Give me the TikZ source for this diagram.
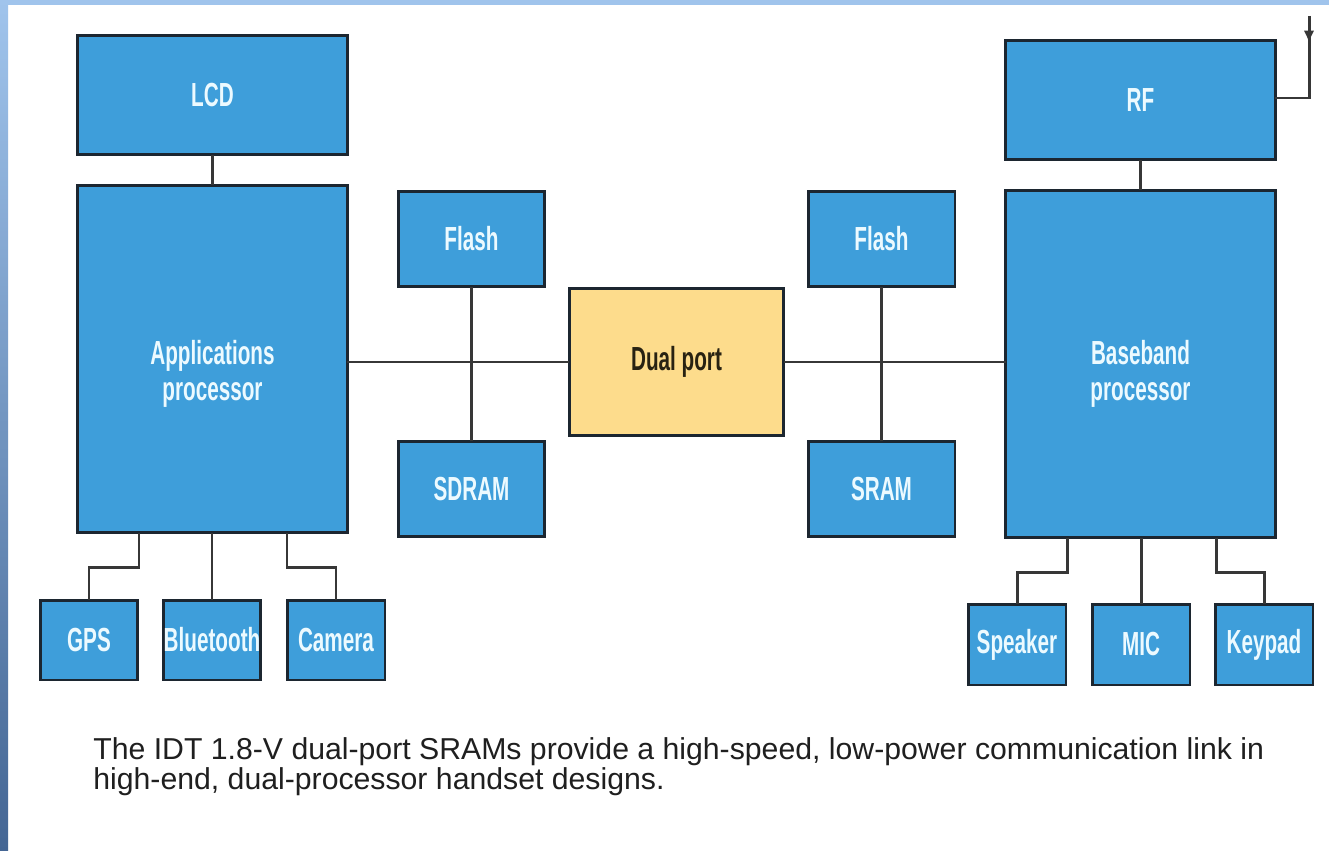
\documentclass[tikz,border=0pt]{standalone}
\usepackage{fontspec}
\setmainfont{Liberation Sans}
\newfontfamily\blockfont{Liberation Sans}[FakeStretch=0.62]
\usepackage{xcolor}
\usetikzlibrary{
    arrows.meta,
    positioning,
    calc
}
\definecolor{blockblue}{RGB}{62,158,218}
\definecolor{blockedge}{RGB}{28,38,48}
\definecolor{blocktext}{RGB}{236,250,255}
\definecolor{dualfill}{RGB}{253,220,140}
\definecolor{dualtext}{RGB}{40,34,18}
\definecolor{wirecol}{RGB}{55,55,55}
\definecolor{bandtop}{RGB}{160,196,236}
\definecolor{bandbottom}{RGB}{68,102,148}

\begin{document}
\begin{tikzpicture}[x=0.02cm, y=-0.02cm,
    blocktext/.style={text=blocktext, align=center, font=\blockfont\bfseries\fontsize{19}{20.5}\selectfont},
    block/.style={draw=blockedge, fill=blockblue, line width=1.7pt, inner sep=0pt, outer sep=0pt, blocktext},
    topbox/.style={block, minimum width=5.4cm, minimum height=2.4cm},
    procbox/.style={block, minimum width=5.4cm, minimum height=6.96cm},
    membox/.style={block, minimum width=2.94cm, minimum height=1.92cm},
    smallbox/.style={block, minimum width=1.96cm, minimum height=1.6cm},
    wire/.style={draw=wirecol, line width=1.7pt}]
    \useasboundingbox (0,0) rectangle (1329,851);
    \fill[white] (0,0) rectangle (1329,851);
    \fill[bandtop] (0,0) rectangle (1329,5);
    \shade[top color=bandtop, bottom color=bandbottom] (0,0) rectangle (8,851);

    % left side
    \node[topbox] (lcd) at (212.5,95) {LCD};
    \node[procbox] (appproc) at (212.5,359) {};
    \node[blocktext] (appproc-name) at ([yshift=-0.29cm]appproc.center) {Applications\\processor};
    \node[smallbox] (gps) at (89,640) {GPS};
    \node[smallbox] (bt) at (212,640) {Bluetooth};
    \node[smallbox] (cam) at (336,640) {Camera};
    \node[membox] (flashl) at (471.5,239) {Flash};
    \node[membox] (sdram) at (471.5,489) {SDRAM};

    % middle
    \node[block, fill=dualfill, text=dualtext, minimum width=4.3cm, minimum height=2.96cm] (dual) at (676.5,362) {Dual port};

    % right side
    \node[membox] (flashr) at (881.5,239) {Flash};
    \node[membox] (sram) at (881.5,489) {SRAM};
    \node[topbox] (rf) at (1140.5,100) {RF};
    \node[procbox] (bbproc) at (1140.5,364) {};
    \node[blocktext] (bbproc-name) at ([yshift=-0.19cm]bbproc.center) {Baseband\\processor};
    \node[smallbox, minimum height=1.62cm] (speaker) at (1017,644.5) {Speaker};
    \node[smallbox, minimum height=1.62cm] (mic) at (1141,644.5) {MIC};
    \node[smallbox, minimum height=1.62cm] (keypad) at (1264,644.5) {Keypad};
    \coordinate (ant) at (1309,16);

    \node[anchor=north west, inner sep=0pt, align=left, text={black!88},
        font=\fontsize{17.2}{17.2}\selectfont] (note) at (93,737)
        {The IDT 1.8-V dual-port SRAMs provide a high-speed, low-power communication link in\\
         high-end, dual-processor handset designs.};

    \draw[wire]
    (lcd) -- (appproc)
    (rf) -- (bbproc)
    (flashl) -- (sdram)
    (flashr) -- (sram)
    (dual.west) -- (dual.west -| appproc.east)
    (dual.east) -- (dual.east -| bbproc.west)
    (bt.north) -- (bt.north |- appproc.south)
    (mic.north) -- (mic.north |- bbproc.south)
    (appproc.south) ++(-73.5,0) -- ++(0,35) -| (gps.north)
    (appproc.south) ++(74.5,0) -- ++(0,35) -| (cam.north)
    (bbproc.south) ++(-73.5,0) -- ++(0,35) -| (speaker.north)
    (bbproc.south) ++(75.5,0) -- ++(0,35) -| (keypad.north)
    (rf.east) ++(0,-2) -| (ant);
    \draw[wire, -{Latex[length=7pt, width=6pt]}] (ant) -- ++(0,27);
\end{tikzpicture}
\end{document}
